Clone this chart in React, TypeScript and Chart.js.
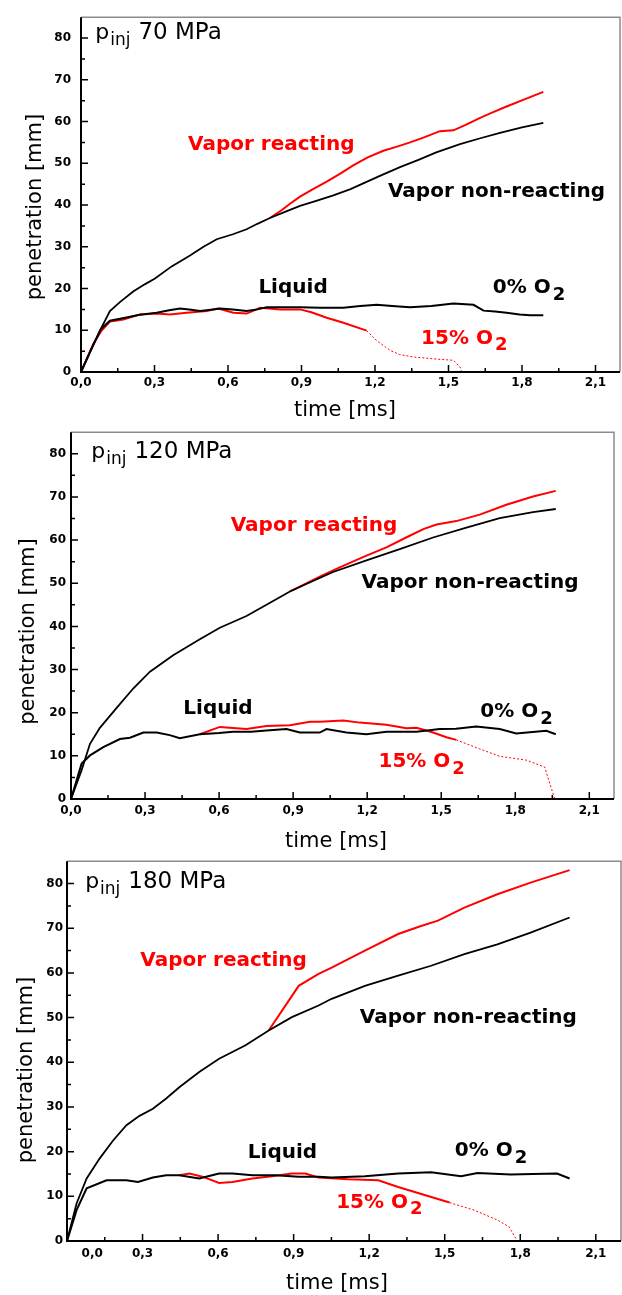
import React, { useEffect, useRef } from "react";
import { Chart, registerables } from "chart.js";

Chart.register(...registerables);

// ---------- axis ticks ----------
const xMajorTicks = [0, 0.3, 0.6, 0.9, 1.2, 1.5, 1.8, 2.1];
const xMinorTicks = [0.15, 0.45, 0.75, 1.05, 1.35, 1.65, 1.95];
const xTickLabels = ["0,0", "0,3", "0,6", "0,9", "1,2", "1,5", "1,8", "2,1"];
// in the third panel the "0,0" label sits off the origin
const xLabelValuesShifted = [0.1, 0.3, 0.6, 0.9, 1.2, 1.5, 1.8, 2.1];
const yMajorTicks = [0, 10, 20, 30, 40, 50, 60, 70, 80];
const yMinorTicks = [5, 15, 25, 35, 45, 55, 65, 75];
const yTickLabels = ["0", "10", "20", "30", "40", "50", "60", "70", "80"];

// ---------- panel 1 : 70 MPa ----------
const p1VaporNonT = [0, 0.04, 0.08, 0.118, 0.16, 0.213, 0.26, 0.302, 0.37, 0.445, 0.5, 0.554, 0.62, 0.676, 0.72, 0.771, 0.83, 0.894, 0.96, 1.03, 1.1, 1.152, 1.22, 1.302, 1.38, 1.45, 1.547, 1.63, 1.71, 1.8, 1.887];
const p1VaporNonY = [0, 5.2, 10.2, 14.6, 16.8, 19.3, 21.0, 22.4, 25.3, 27.9, 30.0, 31.8, 33.0, 34.2, 35.5, 36.9, 38.3, 39.8, 41.0, 42.3, 43.8, 45.2, 47.0, 49.1, 50.9, 52.6, 54.6, 56.0, 57.3, 58.6, 59.7];
const p1VaporReT = [0.771, 0.82, 0.853, 0.894, 0.947, 1.003, 1.06, 1.111, 1.17, 1.234, 1.29, 1.343, 1.4, 1.465, 1.52, 1.57, 1.629, 1.68, 1.737, 1.81, 1.887];
const p1VaporReY = [36.9, 38.8, 40.3, 42.0, 43.8, 45.6, 47.6, 49.5, 51.4, 53.0, 54.0, 55.0, 56.2, 57.7, 57.9, 59.2, 60.9, 62.2, 63.6, 65.3, 67.1];
const p1Liq0T = [0, 0.04, 0.08, 0.118, 0.17, 0.24, 0.309, 0.36, 0.404, 0.45, 0.486, 0.53, 0.567, 0.62, 0.676, 0.72, 0.758, 0.82, 0.894, 0.976, 1.071, 1.14, 1.207, 1.27, 1.343, 1.43, 1.52, 1.602, 1.643, 1.69, 1.737, 1.79, 1.833, 1.887];
const p1Liq0Y = [0, 5.2, 10.2, 12.3, 12.9, 13.7, 14.2, 14.8, 15.2, 14.9, 14.6, 14.9, 15.2, 15.0, 14.6, 15.0, 15.5, 15.5, 15.5, 15.4, 15.4, 15.8, 16.1, 15.8, 15.5, 15.8, 16.4, 16.1, 14.7, 14.5, 14.2, 13.8, 13.6, 13.6];
const p1Liq15T = [0, 0.05, 0.085, 0.118, 0.173, 0.241, 0.309, 0.363, 0.431, 0.513, 0.56, 0.622, 0.676, 0.731, 0.812, 0.894, 0.94, 1.003, 1.071, 1.166];
const p1Liq15Y = [0, 6.7, 10.0, 12.1, 12.6, 13.8, 14.0, 13.8, 14.2, 14.6, 15.2, 14.2, 14.0, 15.4, 15.0, 15.0, 14.3, 13.0, 11.8, 9.9];
const p1Liq15DotT = [1.166, 1.207, 1.261, 1.3, 1.356, 1.45, 1.52, 1.547, 1.554];
const p1Liq15DotY = [9.9, 7.5, 5.2, 4.2, 3.6, 3.1, 2.8, 1.2, 0];

// ---------- panel 2 : 120 MPa ----------
const p2VaporNonT = [0, 0.043, 0.077, 0.117, 0.185, 0.252, 0.32, 0.414, 0.522, 0.603, 0.711, 0.792, 0.887, 0.96, 1.062, 1.197, 1.332, 1.467, 1.602, 1.737, 1.872, 1.964];
const p2VaporNonY = [0, 6.7, 12.8, 16.5, 21.1, 25.6, 29.5, 33.3, 37.0, 39.7, 42.4, 45.0, 48.1, 50.0, 52.6, 55.3, 57.9, 60.6, 62.9, 65.1, 66.5, 67.2];
const p2VaporReT = [0.887, 0.927, 1.008, 1.062, 1.13, 1.197, 1.278, 1.372, 1.43, 1.481, 1.561, 1.656, 1.764, 1.872, 1.964];
const p2VaporReY = [48.1, 49.2, 51.5, 53.0, 54.7, 56.4, 58.3, 61.0, 62.6, 63.6, 64.4, 65.9, 68.2, 70.1, 71.4];
const p2Liq0T = [0, 0.043, 0.077, 0.131, 0.198, 0.239, 0.293, 0.347, 0.4, 0.441, 0.522, 0.6, 0.657, 0.73, 0.792, 0.873, 0.927, 1.008, 1.035, 1.116, 1.197, 1.278, 1.4, 1.494, 1.56, 1.642, 1.737, 1.804, 1.87, 1.926, 1.964];
const p2Liq0Y = [0, 8.2, 10.1, 12.0, 13.9, 14.2, 15.4, 15.4, 14.8, 14.1, 15.0, 15.3, 15.6, 15.6, 15.9, 16.2, 15.4, 15.4, 16.2, 15.4, 15.0, 15.6, 15.6, 16.2, 16.3, 16.8, 16.2, 15.2, 15.5, 15.8, 15.0];
const p2Liq15T = [0.522, 0.603, 0.711, 0.792, 0.887, 0.968, 1.008, 1.103, 1.17, 1.278, 1.359, 1.4, 1.467, 1.521, 1.561];
const p2Liq15Y = [15.0, 16.7, 16.2, 16.9, 17.1, 17.9, 17.9, 18.2, 17.7, 17.2, 16.4, 16.5, 15.4, 14.3, 13.7];
const p2Liq15DotT = [1.561, 1.656, 1.737, 1.845, 1.919, 1.96];
const p2Liq15DotY = [13.7, 11.6, 9.9, 9.0, 7.4, 0];

// ---------- panel 3 : 180 MPa ----------
const p3VaporNonT = [0, 0.038, 0.078, 0.13, 0.183, 0.236, 0.288, 0.341, 0.394, 0.446, 0.525, 0.604, 0.709, 0.801, 0.893, 0.999, 1.051, 1.183, 1.315, 1.446, 1.578, 1.709, 1.841, 1.996];
const p3VaporNonY = [0, 8.4, 14.0, 18.5, 22.5, 25.9, 28.0, 29.6, 31.9, 34.4, 37.8, 40.8, 43.8, 47.1, 50.1, 52.7, 54.2, 57.1, 59.4, 61.6, 64.2, 66.4, 69.0, 72.4];
const p3VaporReT = [0.801, 0.92, 0.999, 1.051, 1.183, 1.315, 1.4, 1.473, 1.578, 1.709, 1.841, 1.996];
const p3VaporReY = [47.1, 57.1, 59.8, 61.2, 65.0, 68.7, 70.4, 71.7, 74.6, 77.6, 80.2, 83.0];
const p3Liq0T = [0, 0.038, 0.078, 0.157, 0.236, 0.282, 0.341, 0.394, 0.446, 0.525, 0.604, 0.657, 0.736, 0.829, 0.92, 0.999, 1.051, 1.183, 1.315, 1.446, 1.565, 1.63, 1.762, 1.85, 1.946, 1.996];
const p3Liq0Y = [0, 6.9, 11.8, 13.6, 13.6, 13.2, 14.2, 14.7, 14.7, 14.0, 15.1, 15.1, 14.7, 14.7, 14.4, 14.4, 14.2, 14.5, 15.1, 15.4, 14.5, 15.2, 14.9, 15.0, 15.1, 14.0];
const p3Liq15T = [0.446, 0.486, 0.538, 0.604, 0.657, 0.736, 0.814, 0.893, 0.946, 0.999, 1.117, 1.236, 1.315, 1.42, 1.519];
const p3Liq15Y = [14.7, 15.1, 14.4, 13.0, 13.2, 14.0, 14.5, 15.1, 15.1, 14.2, 13.8, 13.6, 12.1, 10.3, 8.6];
const p3Liq15DotT = [1.519, 1.617, 1.709, 1.755, 1.788];
const p3Liq15DotY = [8.6, 6.9, 4.7, 3.2, 0];

// ---------- texts ----------
const pressures = ["70 MPa", "120 MPa", "180 MPa"];
const seriesTexts = ["Vapor reacting", "Vapor non-reacting", "Liquid", "0% O", "15% O"];

const RED = "#ff0000";
const BLACK = "#000000";
const FONT = "'DejaVu Sans', 'Liberation Sans', sans-serif";

type PanelLayout = {
  top: number;
  height: number;
  padTop: number;
  padRight: number;
  yAxisW: number;
  xAxisH: number;
  yTickPad: number;
  xTickPad: number;
  xLabelValues: number[];
  xTitleBase: number;
  xTitleDx: number;
  yTitleX: number;
  yTitleCy: number;
  // anchors (time, mm) for: pressure, vapor reacting, vapor non-reacting, liquid, 0% O2, 15% O2
  annT: number[];
  annV: number[];
};

const layouts: PanelLayout[] = [
  {
    top: 0, height: 420, padTop: 11, padRight: 2, yAxisW: 81, xAxisH: 48, yTickPad: 10, xTickPad: 4,
    xLabelValues: xMajorTicks, xTitleBase: 44, xTitleDx: -5.5, yTitleX: 36, yTitleCy: 207,
    annT: [0.058, 0.437, 1.253, 0.724, 1.681, 1.388],
    annV: [79.8, 53.2, 42.0, 18.9, 18.9, 6.75],
  },
  {
    top: 420, height: 430, padTop: 5, padRight: 8, yAxisW: 71, xAxisH: 51, yTickPad: 5, xTickPad: 5,
    xLabelValues: xMajorTicks, xTitleBase: 48, xTitleDx: -6.5, yTitleX: 29, yTitleCy: 211.5,
    annT: [0.082, 0.647, 1.177, 0.455, 1.658, 1.246],
    annV: [79.0, 62.1, 49.0, 19.6, 19.0, 7.3],
  },
  {
    top: 850, height: 445, padTop: 9, padRight: 1, yAxisW: 67, xAxisH: 54, yTickPad: 4, xTickPad: 6,
    xLabelValues: xLabelValuesShifted, xTitleBase: 48.3, xTitleDx: -7, yTitleX: 27, yTitleCy: 220,
    annT: [0.072, 0.291, 1.163, 0.718, 1.54, 1.069],
    annV: [78.9, 61.6, 48.9, 18.5, 19.0, 7.4],
  },
];

const seriesSets = [
  { vn: [p1VaporNonT, p1VaporNonY], vr: [p1VaporReT, p1VaporReY], l0: [p1Liq0T, p1Liq0Y], l15: [p1Liq15T, p1Liq15Y], l15d: [p1Liq15DotT, p1Liq15DotY] },
  { vn: [p2VaporNonT, p2VaporNonY], vr: [p2VaporReT, p2VaporReY], l0: [p2Liq0T, p2Liq0Y], l15: [p2Liq15T, p2Liq15Y], l15d: [p2Liq15DotT, p2Liq15DotY] },
  { vn: [p3VaporNonT, p3VaporNonY], vr: [p3VaporReT, p3VaporReY], l0: [p3Liq0T, p3Liq0Y], l15: [p3Liq15T, p3Liq15Y], l15d: [p3Liq15DotT, p3Liq15DotY] },
];

const pts = (t: number[], y: number[]) => t.map((x, i) => ({ x, y: y[i] }));

function drawSubText(ctx: CanvasRenderingContext2D, x: number, y: number, main: string, sub: string, color: string, size: number) {
  ctx.fillStyle = color;
  ctx.font = `bold ${size}px ${FONT}`;
  ctx.textAlign = "left";
  ctx.textBaseline = "alphabetic";
  ctx.fillText(main, x, y);
  const w = ctx.measureText(main).width;
  ctx.font = `bold ${Math.round(size * 0.9)}px ${FONT}`;
  ctx.fillText(sub, x + w + 2, y + 6.5);
}

function Panel({ idx }: { idx: number }) {
  const ref = useRef<HTMLCanvasElement>(null);
  const L = layouts[idx];
  const S = seriesSets[idx];

  useEffect(() => {
    const canvas = ref.current!;
    const decor = {
      id: "decor" + idx,
      afterDraw(chart: any) {
        const ctx: CanvasRenderingContext2D = chart.ctx;
        const { left, right, top, bottom } = chart.chartArea;
        const xs = chart.scales.x;
        const ys = chart.scales.y;
        ctx.save();
        // gray frame top/right
        ctx.strokeStyle = "#8c8c8c";
        ctx.lineWidth = 1.5;
        ctx.beginPath();
        ctx.moveTo(left, top);
        ctx.lineTo(right, top);
        ctx.lineTo(right, bottom);
        ctx.stroke();
        // inward ticks
        ctx.strokeStyle = BLACK;
        ctx.lineWidth = 1.5;
        ctx.beginPath();
        xMajorTicks.forEach((v) => {
          const p = xs.getPixelForValue(v);
          ctx.moveTo(p, bottom);
          ctx.lineTo(p, bottom - 7);
        });
        xMinorTicks.forEach((v) => {
          const p = xs.getPixelForValue(v);
          ctx.moveTo(p, bottom);
          ctx.lineTo(p, bottom - 4);
        });
        yMajorTicks.forEach((v) => {
          const p = ys.getPixelForValue(v);
          ctx.moveTo(left, p);
          ctx.lineTo(left + 7, p);
        });
        yMinorTicks.forEach((v) => {
          const p = ys.getPixelForValue(v);
          ctx.moveTo(left, p);
          ctx.lineTo(left + 4, p);
        });
        ctx.stroke();
        // main axes
        ctx.lineWidth = 2;
        ctx.beginPath();
        ctx.moveTo(left, top);
        ctx.lineTo(left, bottom);
        ctx.lineTo(right, bottom);
        ctx.stroke();

        // axis titles
        ctx.fillStyle = BLACK;
        ctx.font = `21px ${FONT}`;
        ctx.textAlign = "center";
        ctx.textBaseline = "alphabetic";
        ctx.fillText("time [ms]", (left + right) / 2 + L.xTitleDx, bottom + L.xTitleBase);
        ctx.save();
        ctx.translate(L.yTitleX, L.yTitleCy);
        ctx.rotate(-Math.PI / 2);
        ctx.textBaseline = "middle";
        ctx.fillText("penetration [mm]", 0, 0);
        ctx.restore();

        // annotations
        const ax = (i: number) => xs.getPixelForValue(L.annT[i]);
        const ay = (i: number) => ys.getPixelForValue(L.annV[i]);
        // pressure label p_inj
        ctx.textAlign = "left";
        ctx.textBaseline = "alphabetic";
        ctx.fillStyle = BLACK;
        ctx.font = `22px ${FONT}`;
        ctx.fillText("p", ax(0), ay(0));
        const pw = ctx.measureText("p").width;
        ctx.font = `17px ${FONT}`;
        ctx.fillText("inj", ax(0) + pw + 1, ay(0) + 6);
        const iw = ctx.measureText("inj").width;
        ctx.font = `23px ${FONT}`;
        ctx.fillText(pressures[idx], ax(0) + pw + 1 + iw + 8, ay(0));

        ctx.font = `bold 20px ${FONT}`;
        ctx.fillStyle = RED;
        ctx.fillText(seriesTexts[0], ax(1), ay(1));
        ctx.fillStyle = BLACK;
        ctx.fillText(seriesTexts[1], ax(2), ay(2));
        ctx.fillText(seriesTexts[2], ax(3), ay(3));
        drawSubText(ctx, ax(4), ay(4), seriesTexts[3], "2", BLACK, 20);
        drawSubText(ctx, ax(5), ay(5), seriesTexts[4], "2", RED, 20);
        ctx.restore();
      },
    };

    const tickFont = { family: FONT, size: 12, weight: "bold" as const };
    const chart = new Chart(canvas, {
      type: "line",
      data: {
        datasets: [
          { label: "Vapor non-reacting", data: pts(S.vn[0], S.vn[1]), borderColor: BLACK, borderWidth: 1.8, order: 0 },
          { label: "Liquid 0% O2", data: pts(S.l0[0], S.l0[1]), borderColor: BLACK, borderWidth: 2, order: 1 },
          { label: "Vapor reacting", data: pts(S.vr[0], S.vr[1]), borderColor: RED, borderWidth: 2, order: 2 },
          { label: "Liquid 15% O2", data: pts(S.l15[0], S.l15[1]), borderColor: RED, borderWidth: 2, order: 3 },
          { label: "Liquid 15% O2 (end)", data: pts(S.l15d[0], S.l15d[1]), borderColor: RED, borderWidth: 1, borderDash: [2, 2], order: 4 },
        ].map((d) => ({ ...d, pointRadius: 0, tension: 0, fill: false })),
      },
      options: {
        animation: false,
        responsive: false,
        maintainAspectRatio: false,
        layout: { padding: { top: L.padTop, right: L.padRight, left: 0, bottom: 0 } },
        plugins: { legend: { display: false }, tooltip: { enabled: false }, title: { display: false } },
        events: [],
        scales: {
          x: {
            type: "linear",
            min: 0,
            max: 2.2,
            afterBuildTicks: (s: any) => {
              s.ticks = L.xLabelValues.map((v) => ({ value: v }));
            },
            afterFit: (s: any) => {
              s.height = L.xAxisH;
            },
            ticks: {
              autoSkip: false,
              maxRotation: 0,
              padding: L.xTickPad,
              color: BLACK,
              font: tickFont,
              callback: (_v: any, i: number) => xTickLabels[i],
            },
            grid: { display: false, drawTicks: false },
            border: { display: false },
          },
          y: {
            type: "linear",
            min: 0,
            max: 85,
            afterBuildTicks: (s: any) => {
              s.ticks = yMajorTicks.map((v) => ({ value: v }));
            },
            afterFit: (s: any) => {
              s.width = L.yAxisW;
            },
            ticks: {
              autoSkip: false,
              padding: L.yTickPad,
              color: BLACK,
              font: tickFont,
              callback: (_v: any, i: number) => yTickLabels[i],
            },
            grid: { display: false, drawTicks: false },
            border: { display: false },
          },
        },
      },
      plugins: [decor],
    } as any);
    return () => chart.destroy();
  }, []);

  return (
    <canvas
      ref={ref}
      width={622}
      height={L.height}
      style={{ position: "absolute", left: 0, top: L.top, width: 622, height: L.height, display: "block" }}
    />
  );
}

export default function App() {
  return (
    <div style={{ position: "absolute", left: 0, top: 0, width: 622, height: 1295, background: "#fff", overflow: "hidden" }}>
      <Panel idx={0} />
      <Panel idx={1} />
      <Panel idx={2} />
    </div>
  );
}
